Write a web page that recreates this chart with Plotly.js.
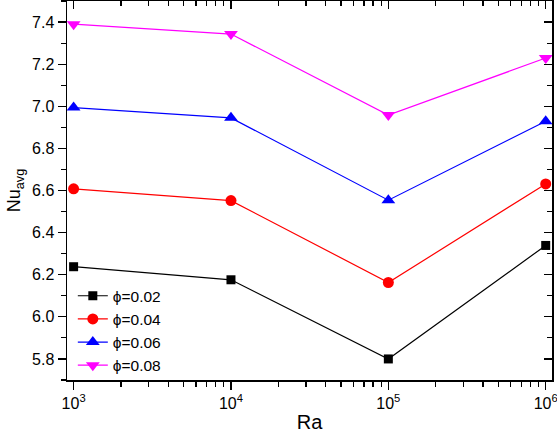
<!DOCTYPE html>
<html>
<head>
<meta charset="utf-8">
<script src="https://cdn.plot.ly/plotly-3.0.1.min.js"></script>
<style>html,body{margin:0;padding:0;background:#fff;}#chart{width:557px;height:435px;}</style>
</head>
<body>
<div id="chart"></div>
<script>
const ra = [1e3, 1e4, 1e5, 1e6];
const nu002 = [6.238, 6.176, 5.800, 6.339];
const nu004 = [6.608, 6.552, 6.163, 6.631];
const nu006 = [6.994, 6.945, 6.554, 6.929];
const nu008 = [7.390, 7.343, 6.958, 7.229];
const seriesNames = ['ϕ=0.02', 'ϕ=0.04', 'ϕ=0.06', 'ϕ=0.08'];
const xTickVals = [1e3, 1e4, 1e5, 1e6];
const xTickText = ['10<sup>3</sup>', '10<sup>4</sup>', '10<sup>5</sup>', '10<sup>6</sup>'];

const colors = ['#000000', '#ff0000', '#0000ff', '#ff00ff'];
const symbols = ['square', 'circle', 'triangle-up', 'triangle-down'];
const sizes = [9, 11, 12, 12];
const ys = [nu002, nu004, nu006, nu008];

const minorX = [];
for (let d = 2; d <= 6; d++) {
  for (let m = 2; m <= 9; m++) minorX.push(m * Math.pow(10, d));
}

const font = 'Liberation Sans, Arial, sans-serif';
const traces = ys.map((y, i) => ({
  x: ra, y: y, type: 'scatter', mode: 'lines+markers', name: seriesNames[i],
  line: {color: colors[i], width: 1.2},
  marker: {color: colors[i], symbol: symbols[i], size: sizes[i]}
}));
traces.push({x: [], y: [], xaxis: 'x2', yaxis: 'y2', showlegend: false, hoverinfo: 'skip', type: 'scatter'});

const xr = [2.958, 6.04];
const yr = [5.7, 7.5];
const layout = {
  width: 557, height: 435,
  margin: {l: 67, r: 5, t: 1, b: 55},
  paper_bgcolor: '#ffffff', plot_bgcolor: '#ffffff',
  font: {family: font, size: 16, color: '#000'},
  showlegend: true,
  legend: {x: 0.012, y: 0.266, xanchor: 'left', yanchor: 'top', bgcolor: 'rgba(0,0,0,0)',
           font: {family: font, size: 15.5, color: '#000'}, tracegroupgap: 0},
  xaxis: {
    type: 'log', range: xr, showgrid: false, zeroline: false,
    showline: true, linecolor: '#000', linewidth: 1.5,
    ticks: 'outside', ticklen: 8, tickwidth: 1.2, tickcolor: '#000',
    tickmode: 'array', tickvals: xTickVals, ticktext: xTickText,
    ticklabeloverflow: 'allow',
    tickfont: {family: font, size: 16},
    minor: {tickmode: 'array', tickvals: minorX, ticks: 'outside', ticklen: 5, tickwidth: 1.2, tickcolor: '#000', showgrid: false},
    title: {text: 'Ra', font: {family: font, size: 20}, standoff: 4}
  },
  yaxis: {
    range: yr, showgrid: false, zeroline: false,
    showline: true, linecolor: '#000', linewidth: 1.5,
    ticks: 'outside', ticklen: 8, tickwidth: 1.2, tickcolor: '#000',
    dtick: 0.2, tick0: 5.8, tickformat: '.1f',
    tickfont: {family: font, size: 16},
    minor: {dtick: 0.1, ticks: 'outside', ticklen: 5, tickwidth: 1.2, tickcolor: '#000', showgrid: false},
    title: {text: 'Nu<sub>avg</sub>', font: {family: font, size: 18}, standoff: 6}
  },
  xaxis2: {
    type: 'log', range: xr, overlaying: 'x', side: 'top', anchor: 'y2',
    showgrid: false, zeroline: false, showline: true, linecolor: '#000', linewidth: 1.5,
    ticks: 'inside', ticklen: 8, tickwidth: 1.2, tickcolor: '#000', showticklabels: false,
    tickmode: 'array', tickvals: xTickVals,
    minor: {tickmode: 'array', tickvals: minorX, ticks: 'inside', ticklen: 5, tickwidth: 1.2, tickcolor: '#000', showgrid: false}
  },
  yaxis2: {
    range: yr, overlaying: 'y', side: 'right', anchor: 'x2',
    showgrid: false, zeroline: false, showline: true, linecolor: '#000', linewidth: 1.5,
    ticks: 'inside', ticklen: 8, tickwidth: 1.2, tickcolor: '#000', showticklabels: false,
    dtick: 0.2, tick0: 5.8,
    minor: {dtick: 0.1, ticks: 'inside', ticklen: 5, tickwidth: 1.2, tickcolor: '#000', showgrid: false}
  }
};

Plotly.newPlot('chart', traces, layout, {displayModeBar: false, staticPlot: true});
</script>
</body>
</html>
